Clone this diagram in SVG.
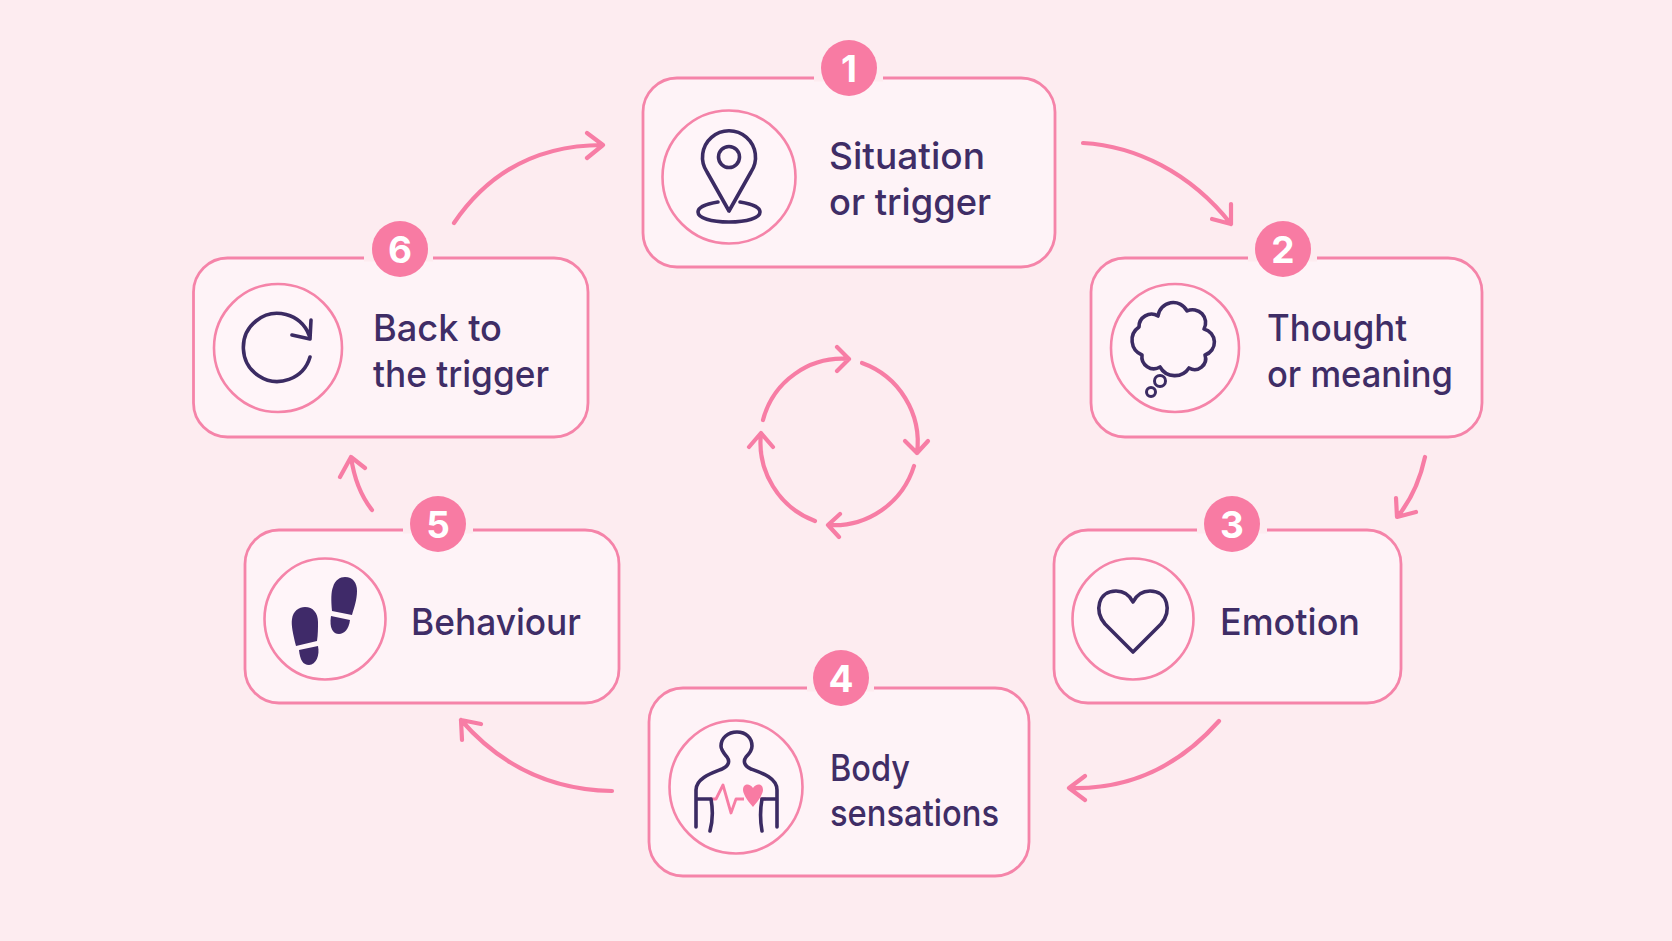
<svg xmlns="http://www.w3.org/2000/svg" width="1672" height="941" viewBox="0 0 1672 941">
<style>
.card{fill:#fef3f7;stroke:#f584a9;stroke-width:2.8}
.ring{fill:#fff5f9;stroke:#f584a9;stroke-width:2.6}
.gap{stroke:#fdecf0;stroke-width:7;fill:none}
.badge{fill:#f87ba3}
.num{font:700 37px "Inter","Liberation Sans",sans-serif;fill:#fff;text-anchor:middle}
.lbl{font:500 37px "Inter","Noto Sans",sans-serif;fill:#3f2d66}
.ico{fill:none;stroke:#3b2b63;stroke-width:3.6;stroke-linecap:round;stroke-linejoin:round}
.fill{fill:#3f2a69}
.con{fill:none;stroke:#f77da5;stroke-width:4.2;stroke-linecap:round;stroke-linejoin:round}
.pk{fill:none;stroke:#f77da5;stroke-width:2.8;stroke-linejoin:round}
</style>
<rect width="1672" height="941" fill="#fdecf0"/>
<g id="connectors">
<path class="con" d="M1083 143C1135 146 1190 172 1231 224M1212 219L1231 224L1231 204"/>
<path class="con" d="M1425 457C1420 480 1411 500 1398 516M1396 498L1397 517L1416 512"/>
<path class="con" d="M1219 721C1180 765 1130 790 1069 788M1085 776L1069 788L1085 800"/>
<path class="con" d="M612 791C550 790 500 765 461 720M481 724L461 720L462 740"/>
<path class="con" d="M372 510C361 496 354 478 351 457M340 477L351 457L365 468"/>
<path class="con" d="M454 223C490 170 540 145 603 145M587 133L603 145L587 158"/>
</g>
<g id="center-cycle">
<path class="con" d="M763 420A82 82 0 0 1 849 359M837 347L849 359L837 371"/>
<path class="con" d="M862 363A84 84 0 0 1 917 453M905 441L917 453L928 441"/>
<path class="con" d="M914 466A84 84 0 0 1 828 525M840 514L828 525L839 537"/>
<path class="con" d="M815 521A84 84 0 0 1 761 433M749 447L761 433L773 447"/>
</g>
<g id="node1">
<rect class="card" x="643" y="78" width="412" height="189" rx="34"/>
<path class="gap" d="M814 78H883"/>
<circle class="badge" cx="849" cy="68" r="28"/><text class="num" x="849" y="82">1</text>
<circle class="ring" cx="729" cy="177" r="66.5"/>
<path class="ico" d="M729 211L707 172A26.5 26.5 0 1 1 751 172Z"/>
<circle class="ico" cx="729" cy="157" r="10.5"/>
<path class="ico" d="M718 202C705 204 698 208 698 212C698 218 711 222 729 222C747 222 760 218 760 212C760 208 753 204 740 202"/>
<text class="lbl" x="829" y="169" textLength="156" lengthAdjust="spacingAndGlyphs">Situation</text>
<text class="lbl" x="829" y="215" textLength="162" lengthAdjust="spacingAndGlyphs">or trigger</text>
</g>
<g id="node2">
<rect class="card" x="1091" y="258" width="391" height="179" rx="34"/>
<path class="gap" d="M1248 258H1317"/>
<circle class="badge" cx="1283" cy="249" r="28"/><text class="num" x="1283" y="263">2</text>
<circle class="ring" cx="1175" cy="348" r="64"/>
<path class="ico" d="M1158 316A15.4 15.4 0 0 1 1187 311A13 13 0 0 1 1204 329A13.5 13.5 0 0 1 1205 355A11 11 0 0 1 1189 368A17 17 0 0 1 1160 367A12 12 0 0 1 1142 355A16 16 0 0 1 1139 327A12.5 12.5 0 0 1 1158 316Z"/>
<circle class="ico" cx="1160" cy="381" r="5.5" style="stroke-width:3"/>
<circle class="ico" cx="1151" cy="392" r="4.5" style="stroke-width:3"/>
<text class="lbl" x="1267" y="341" textLength="140" lengthAdjust="spacingAndGlyphs">Thought</text>
<text class="lbl" x="1267" y="387" textLength="186" lengthAdjust="spacingAndGlyphs">or meaning</text>
</g>
<g id="node3">
<rect class="card" x="1054" y="530" width="347" height="173" rx="34"/>
<path class="gap" d="M1197 530H1267"/>
<circle class="badge" cx="1232" cy="524" r="28"/><text class="num" x="1232" y="538">3</text>
<circle class="ring" cx="1133" cy="619" r="60.5"/>
<path class="ico" d="M1133 652L1105 624C1094 611 1098 591 1116 591C1125 591 1130 596 1133 602C1136 596 1141 591 1150 591C1168 591 1172 611 1161 624Z"/>
<text class="lbl" x="1220" y="635" textLength="140" lengthAdjust="spacingAndGlyphs">Emotion</text>
</g>
<g id="node4">
<rect class="card" x="649" y="688" width="380" height="188" rx="34"/>
<path class="gap" d="M807 688H874"/>
<circle class="badge" cx="841" cy="678" r="28"/><text class="num" x="841" y="692">4</text>
<circle class="ring" cx="736" cy="787" r="66.5"/>
<path class="pk" d="M710 799H716L723 785L731 813L736 799H744M760 799H766"/>
<path d="M753 807C746 799 743 793 743 790C743 783 750 783 753 788C756 783 763 783 763 790C763 793 760 799 753 807Z" fill="#f87ba3"/>
<path class="ico" d="M696 827V790C696 778 712 773 722 769C729 766 730 761 727 757C723 752 721 750 721 746C721 738 728 732 737 732C746 732 752 738 752 746C752 750 750 753 746 757C743 761 744 766 751 769C762 773 777 778 777 790V827M696 799H711C713 810 713 820 710 831M777 799H762C760 810 760 820 762 831"/>
<text class="lbl" x="830" y="781" textLength="80" lengthAdjust="spacingAndGlyphs">Body</text>
<text class="lbl" x="830" y="826" textLength="169" lengthAdjust="spacingAndGlyphs">sensations</text>
</g>
<g id="node5">
<rect class="card" x="245" y="530" width="374" height="173" rx="34"/>
<path class="gap" d="M403 530H473"/>
<circle class="badge" cx="438" cy="524" r="28"/><text class="num" x="438" y="538">5</text>
<circle class="ring" cx="325" cy="619" r="60.5"/>
<path class="fill" d="M296 646C293 634 291 625 292 619C293 611 299 607 305 607C313 607 318 613 318 622C318 628 318 634 317 641Z"/>
<path class="fill" d="M299 650L318 646C320 655 316 665 309 665C303 665 300 660 299 650Z"/>
<path class="fill" d="M332 611C331 600 331 592 333 587C335 580 340 577 345 577C353 577 357 583 357 591C357 600 354 608 352 615Z"/>
<path class="fill" d="M331 616L350 620C349 629 344 634 339 634C333 634 329 628 331 616Z"/>
<text class="lbl" x="411" y="635" textLength="170" lengthAdjust="spacingAndGlyphs">Behaviour</text>
</g>
<g id="node6">
<rect class="card" x="193.500" y="258" width="394.500" height="179" rx="34"/>
<path class="gap" d="M364 258H433"/>
<circle class="badge" cx="400" cy="249" r="28"/><text class="num" x="400" y="263">6</text>
<circle class="ring" cx="278" cy="348" r="64"/>
<path class="ico" d="M310 357A34 34 0 1 1 309 335M292 335L310 339L311 320"/>
<text class="lbl" x="373" y="341" textLength="129" lengthAdjust="spacingAndGlyphs">Back to</text>
<text class="lbl" x="373" y="387" textLength="176" lengthAdjust="spacingAndGlyphs">the trigger</text>
</g>
</svg>
